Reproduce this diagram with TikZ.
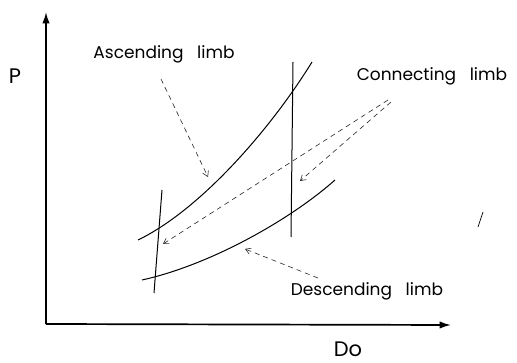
\documentclass[tikz,border=0pt]{standalone}
\usepackage{fontspec}
\setmainfont{Poppins}
\usetikzlibrary{arrows.meta}

\begin{document}
\begin{tikzpicture}[x=1pt,y=-1pt]
\tikzset{
  axisline/.style={-{Latex[length=4mm,width=2.6mm]},line width=1.7pt},
  limb/.style={line width=1pt},
  pointer/.style={-{Straight Barb[length=1.8mm,width=2.2mm]},dash pattern=on 5pt off 4pt,line width=0.6pt,black!85},
  lbl/.style={font=\fontsize{17}{20}\selectfont,inner sep=0pt},
  axlbl/.style={font=\fontsize{21}{24}\selectfont,inner sep=0pt}
}
\useasboundingbox (0,0) rectangle (517,363);
\coordinate (o) at (46,324);
\coordinate (y_top) at (46,12);
\coordinate (x_end) at (451,325);
\draw[axisline] (o) -- (y_top);
\draw[axisline] (o) -- (x_end);
\node[axlbl] (n_P) at (15,76) {P};
\node[axlbl] (n_Do) at (348,349) {Do};
\node[lbl] (n_asc) at (164,54) {Ascending\ \ \ limb};
\node[lbl] (n_con) at (432,76) {Connecting\ \ \ limb};
\node[lbl] (n_des) at (367,291) {Descending\ \ \ limb};
% limbs
\draw[limb] (138,240) .. controls (200,210) and (270,130) .. (312,62);
\draw[limb] (142,280) .. controls (210,265) and (290,220) .. (335,180);
\coordinate (l_top) at (162,190);
\coordinate (l_bot) at (154,293);
\coordinate (r_top) at (293,62);
\coordinate (r_bot) at (291,237);
\draw[limb] (l_top) -- (l_bot);
\draw[limb] (r_top) -- (r_bot);
% pointers
\coordinate (p_asc) at (161,79);
\coordinate (q_asc) at (208,177);
\coordinate (p_con1) at (388,100);
\coordinate (q_con1) at (163,244);
\coordinate (p_con2) at (391,102);
\coordinate (q_con2) at (300,181);
\coordinate (p_des) at (318,278);
\coordinate (q_des) at (245,249);
\draw[pointer] (p_asc) -- (q_asc);
\draw[pointer] (p_con1) -- (q_con1);
\draw[pointer] (p_con2) -- (q_con2);
\draw[pointer] (p_des) -- (q_des);
\coordinate (s_a) at (478,227);
\coordinate (s_b) at (483,212);
\draw[line width=0.7pt] (s_a) -- (s_b);
\end{tikzpicture}
\end{document}
